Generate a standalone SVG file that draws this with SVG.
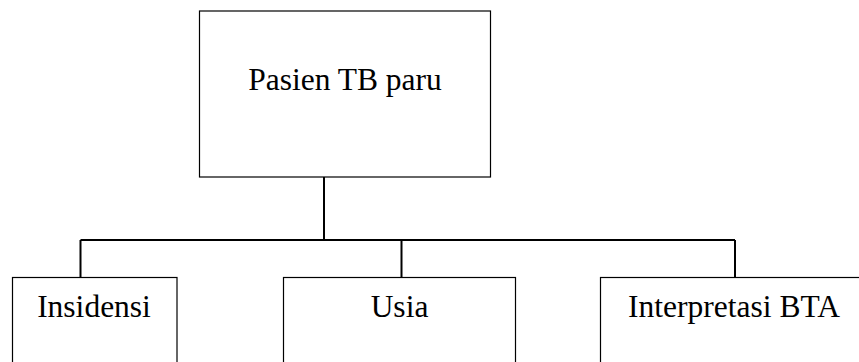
<svg xmlns="http://www.w3.org/2000/svg" width="859" height="362" viewBox="0 0 859 362">
<style>
.box{fill:#fff;stroke:#000;stroke-width:1.2}
.lbl{font-family:"Liberation Serif","Times New Roman",serif;font-size:31.5px;fill:#000;text-anchor:middle}
.con{fill:none;stroke:#000;stroke-width:2}
</style>
<rect width="859" height="362" fill="#fff"/>
<g id="connectors">
<path class="con" d="M324 177V240M80.5 240H735M80.5 240V277.5M401.5 240V277.5M735 240V277.5"/>
</g>
<g id="pasien">
<rect class="box" x="199.5" y="11" width="291" height="166"/>
<text class="lbl" x="345" y="90">Pasien TB paru</text>
</g>
<g id="insidensi">
<rect class="box" x="12.5" y="277.5" width="164.5" height="100"/>
<text class="lbl" x="94" y="317">Insidensi</text>
</g>
<g id="usia">
<rect class="box" x="283.5" y="277.5" width="232" height="100"/>
<text class="lbl" x="399.5" y="317">Usia</text>
</g>
<g id="interpretasi">
<rect class="box" x="600.5" y="277.5" width="280" height="100"/>
<text class="lbl" x="734" y="317">Interpretasi BTA</text>
</g>
</svg>
